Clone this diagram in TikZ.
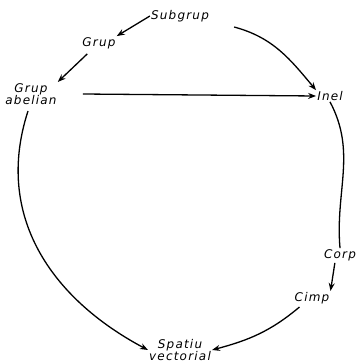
\documentclass[tikz,border=0pt]{standalone}
\usepackage{fontspec}
\setmainfont{DejaVu Sans}
\newfontfamily\lblfont[LetterSpace=10]{DejaVu Sans}
\usetikzlibrary{arrows.meta}

\tikzset{
  lbl/.style={font=\lblfont\itshape\fontsize{12}{10.5}\selectfont, inner sep=1pt, align=center},
  arr/.style={-{Stealth[length=8pt,width=6pt]}, line width=1.3pt}
}

\begin{document}
\begin{tikzpicture}[x=1pt,y=1pt]
    \useasboundingbox (0,0) rectangle (358,-364);

    % structures
        \node[lbl] (S) at (180,-16) {Subgrup};
        \node[lbl] (G) at (99,-43) {Grup};
        \node[lbl] (GA) at (31,-94) {Grup\\abelian};
        \node[lbl] (I) at (330,-96) {Inel};
        \node[lbl] (C) at (340,-255) {Corp};
        \node[lbl] (K) at (312,-298) {Cimp};
        \node[lbl] (V) at (180,-350) {Spatiu\\vectorial};

    % short arrows on the left
        \draw[arr] (S.west) -- (G.north east);
        \draw[arr] (G.south west) ++(6,-4) coordinate (g1) (g1) -- (GA.north east);

    % across the middle
        \draw[arr] (GA.east) ++(25,0) coordinate (ga1) (ga1) -- (I.west);

    % right side
        \draw[arr] (S.east) ++(24,-11) coordinate (s1)
            (s1) to[out=-15, in=130] (I.north west);
        \draw[line width=1.3pt] (I.south) to[out=-62, in=95] (C.north);
        \draw[arr] (C.south west) ++(12,-1) coordinate (c1) (c1) -- (K.north east);
        \draw[arr] (K.south west) ++(6,-2) coordinate (k1)
            (k1) to[out=-140, in=15] (V.east);

    % big arc on the left
        \draw[arr] (GA.south) ++(-3,-5) coordinate (ga2)
            (ga2) to[out=-108, in=152, looseness=1.05] (V.west);
\end{tikzpicture}
\end{document}
